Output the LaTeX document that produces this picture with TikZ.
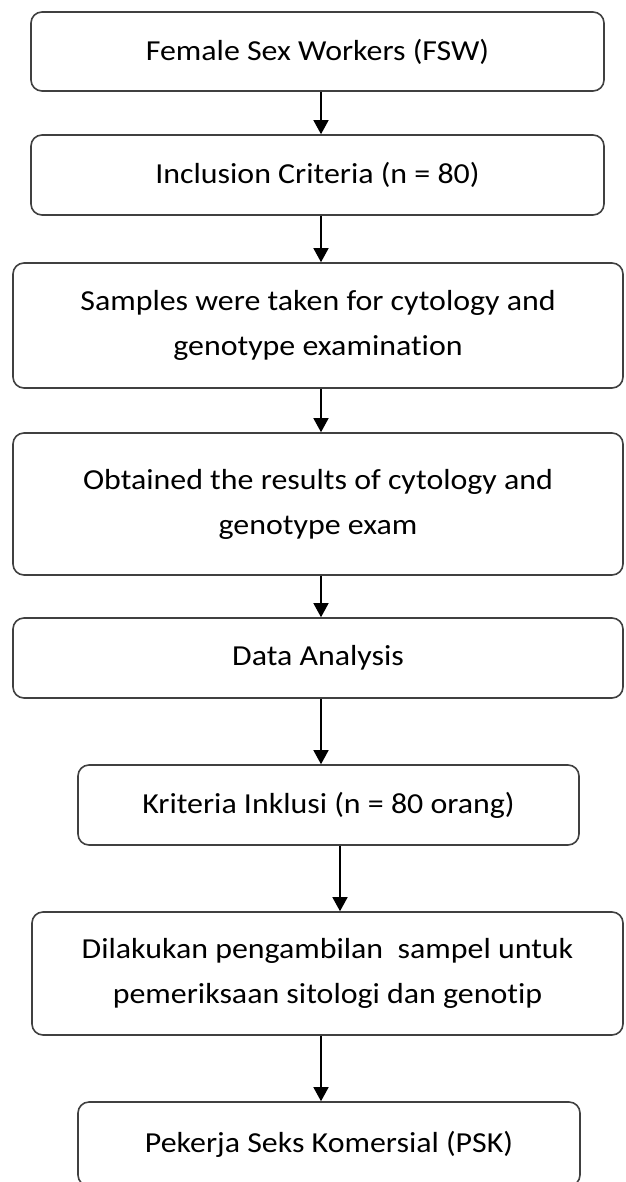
\documentclass[tikz,border=0pt]{standalone}
\usepackage{fontspec}
\setmainfont{Carlito}[FakeStretch=1.1, Ligatures={NoCommon}]
\usetikzlibrary{arrows.meta}
\tikzset{
  stepbox/.style={draw=black!75, line width=1.6pt, rounded corners=11pt, align=center, inner sep=0pt},
  arr/.style={line width=1.4pt, -{Triangle[width=15pt,length=14pt]}}
}
\begin{document}
\begin{tikzpicture}[x=1pt, y=-1pt, font=\fontsize{29}{45}\selectfont]
\useasboundingbox (0,0) rectangle (625,1182);
\coordinate (ax) at (321,0); \coordinate (bx) at (340,0);
\node[stepbox, minimum width=573pt, minimum height=79pt] at (317.5,51.5) (b1) {Female Sex Workers (FSW)};
\node[stepbox, minimum width=573pt, minimum height=80pt] at (317.5,175) (b2) {Inclusion Criteria (n = 80)};
\node[stepbox, minimum width=610pt, minimum height=125pt] at (318,325.5) (b3) {Samples were taken for cytology and\\genotype examination};
\node[stepbox, minimum width=610pt, minimum height=142pt] at (318,504) (b4) {Obtained the results of cytology and\\genotype exam};
\node[stepbox, minimum width=610pt, minimum height=80pt] at (318,658) (b5) {Data Analysis};
 %% indonesian part
\node[stepbox, minimum width=501pt, minimum height=80pt] at (328.5,805) (b6) {Kriteria Inklusi (n = 80 orang)};
\node[stepbox, minimum width=591pt, minimum height=123pt] at (327.5,973.5) (b7) {Dilakukan pengambilan~ sampel untuk\\pemeriksaan sitologi dan genotip};
\node[stepbox, minimum width=502pt, minimum height=84pt] at (329,1144) (b8) {Pekerja Seks Komersial (PSK)};
 %% arrows
\draw[arr] (b1.south -| ax) -- (b2.north -| ax);
\draw[arr] (b2.south -| ax) -- (b3.north -| ax);
\draw[arr] (b3.south -| ax) -- (b4.north -| ax);
\draw[arr] (b4.south -| ax) -- (b5.north -| ax);
\draw[arr] (b5.south -| ax) -- (b6.north -| ax);
\draw[arr] (b6.south -| bx) -- (b7.north -| bx);
\draw[arr] (b7.south -| ax) -- (b8.north -| ax);
\end{tikzpicture}
\end{document}
